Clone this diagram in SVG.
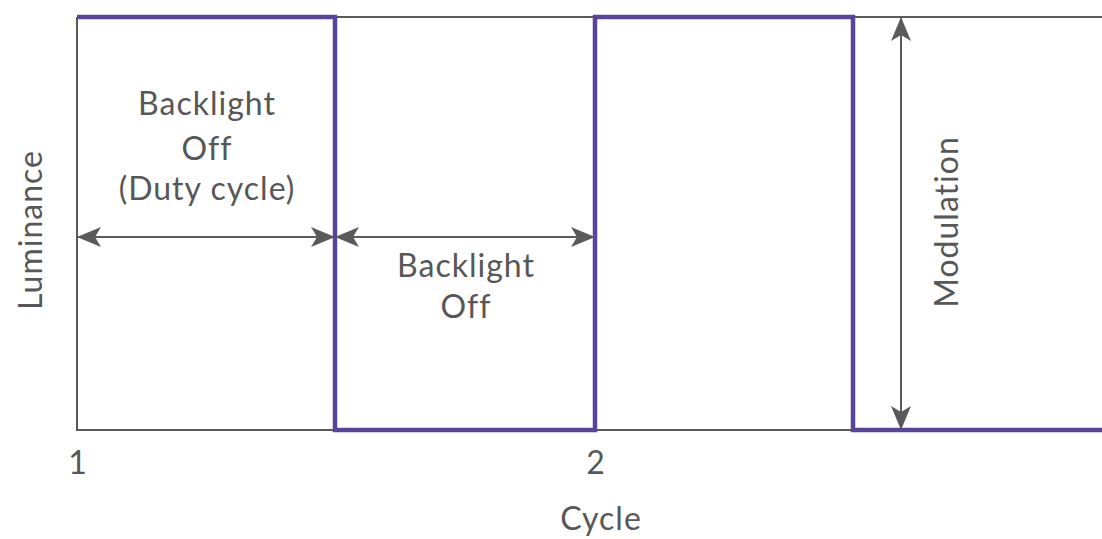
<svg xmlns="http://www.w3.org/2000/svg" width="1102" height="539" viewBox="0 0 1102 539">
<style>
.g{stroke:#5a5a5a;stroke-width:2;fill:none}
.w{stroke:#59449c;stroke-width:4.5;fill:none}
.a{stroke:#5a5a5a;stroke-width:2;fill:none;marker-start:url(#ah);marker-end:url(#ah)}
text{font-family:Lato,"Open Sans",sans-serif;font-size:32px;letter-spacing:1px;fill:#575757;text-anchor:middle}
</style>
<defs>
<marker id="ah" viewBox="0 0 24 20" refX="23" refY="10" markerWidth="24" markerHeight="20" markerUnits="userSpaceOnUse" orient="auto-start-reverse">
<path d="M0,0 L24,10 L0,20 L6,10 Z" fill="#5a5a5a"/>
</marker>
</defs>
<g id="axes">
<path class="g" d="M77,17 V430 H335 M595,430 H853 M335,17 H1102"/>
</g>
<g id="waveform">
<path class="w" d="M77,17 H335 V430 H595 V17 H853 V430 H1102"/>
</g>
<g id="connectors">
<line class="a" x1="78" y1="237" x2="334" y2="237"/>
<line class="a" x1="336" y1="237" x2="594" y2="237"/>
<line class="a" x1="901" y1="18" x2="901" y2="429"/>
</g>
<g id="label-duty">
<text x="207" y="115">Backlight</text>
<text x="207" y="160">Off</text>
<text x="207" y="200">(Duty cycle)</text>
</g>
<g id="label-off">
<text x="466" y="277">Backlight</text>
<text x="466" y="318">Off</text>
</g>
<g id="label-modulation">
<text transform="translate(958,222) rotate(-90)">Modulation</text>
</g>
<g id="label-luminance">
<text transform="translate(42,230) rotate(-90)">Luminance</text>
</g>
<g id="ticks">
<text x="78" y="474">1</text>
<text x="596" y="474">2</text>
<text x="601" y="530">Cycle</text>
</g>
</svg>
